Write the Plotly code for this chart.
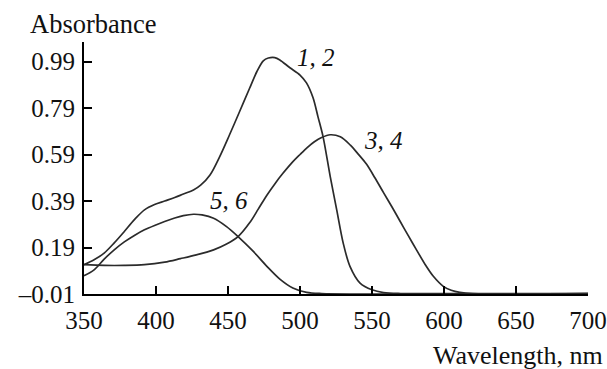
import plotly.graph_objects as go

# Curve 1, 2
wl_12 = [350, 357, 364, 371, 378, 385, 392, 399, 406, 413, 419, 426, 431, 437.5, 444, 451, 458, 465,
         470, 474.5, 478, 482.5, 486, 493, 500, 504.5, 509, 512.5, 516, 521, 525.5, 530, 534.7,
         541.7, 550, 558, 570, 620, 700]
abs_12 = [0.116, 0.137, 0.166, 0.21, 0.259, 0.31, 0.352, 0.375, 0.39, 0.405, 0.42, 0.437, 0.458, 0.502,
          0.578, 0.674, 0.774, 0.875, 0.946, 0.993, 1.005, 1.007, 0.997, 0.963, 0.932, 0.898, 0.835,
          0.752, 0.667, 0.495, 0.352, 0.209, 0.109, 0.037, 0.008, -0.004, -0.008, -0.008, -0.008]

# Curve 3, 4
wl_34 = [350, 364, 378, 392, 406, 417, 428, 440, 449, 457, 465, 471, 477, 483, 488, 494, 500, 505, 510,
         515, 521, 528, 535, 540, 546, 552, 558, 564, 569.4, 575, 581, 587, 592.6, 599.5, 605, 611,
         620, 700]
abs_34 = [0.116, 0.113, 0.113, 0.116, 0.127, 0.142, 0.158, 0.18, 0.205, 0.237, 0.296, 0.355, 0.415, 0.468,
          0.508, 0.552, 0.59, 0.62, 0.645, 0.663, 0.675, 0.666, 0.63, 0.595, 0.55, 0.49, 0.426, 0.363,
          0.304, 0.243, 0.179, 0.116, 0.066, 0.023, 0.006, -0.003, -0.008, -0.008]

# Curve 5, 6
wl_56 = [350, 357, 364, 371, 378, 385, 392, 399, 406, 413, 419, 426, 432, 440, 449, 457, 467.6, 477,
         486, 495, 504.6, 515, 700]
abs_56 = [0.069, 0.094, 0.14, 0.18, 0.214, 0.242, 0.266, 0.285, 0.302, 0.317, 0.327, 0.333, 0.33,
          0.316, 0.28, 0.237, 0.173, 0.109, 0.054, 0.016, -0.003, -0.008, -0.008]

x_ticks = [350, 400, 450, 500, 550, 600, 650, 700]
y_ticks = [-0.01, 0.19, 0.39, 0.59, 0.79, 0.99]
y_ticktext = ["\u20130.01", "0.19", "0.39", "0.59", "0.79", "0.99"]

curve_labels = ["1, 2", "3, 4", "5, 6"]

FONT = "Liberation Serif"
LINE = dict(color="#2b2b2b", width=1.7, shape="spline", smoothing=0.9)

fig = go.Figure()
for wl, ab in [(wl_12, abs_12), (wl_34, abs_34), (wl_56, abs_56)]:
    fig.add_trace(go.Scatter(x=wl, y=ab, mode="lines", line=LINE, showlegend=False,
                             hoverinfo="skip"))

label_pos = [(496.5, 1.009), (543, 0.649), (436, 0.392)]
for txt, (lx, ly) in zip(curve_labels, label_pos):
    fig.add_annotation(x=lx, y=ly, xref="x", yref="y", text="<i>" + txt + "</i>",
                       showarrow=False, xanchor="left", yanchor="middle",
                       font=dict(family=FONT, size=25, color="#111"))

PW, PH = 504, 252.3
fig.add_annotation(x=(28 - 84) / PW, y=1 + (42 - 24) / PH, xref="paper", yref="paper",
                   text="Absorbance", showarrow=False, xanchor="left", yanchor="middle",
                   font=dict(family=FONT, size=26.5, color="#111"))
fig.add_annotation(x=(605 - 84) / PW, y=-(356 - 294.3) / PH, xref="paper", yref="paper",
                   text="Wavelength, nm", showarrow=False, xanchor="right", yanchor="middle",
                   font=dict(family=FONT, size=26, color="#111"))

fig.update_layout(
    width=607, height=369,
    margin=dict(l=84, r=19, t=42, b=75, autoexpand=False),
    paper_bgcolor="white", plot_bgcolor="white",
    font=dict(family=FONT, size=25, color="#111"),
)

fig.update_xaxes(range=[350, 700], tickvals=x_ticks, ticks="inside", ticklen=8, tickwidth=2,
                 tickcolor="black", showline=True, linecolor="black", linewidth=2,
                 showgrid=False, zeroline=False, automargin=False, ticklabelstandoff=3,
                 tickfont=dict(family=FONT, size=25, color="#111"))
fig.update_yaxes(range=[-0.01, 1.074], tickvals=y_ticks, ticktext=y_ticktext, ticks="inside",
                 ticklen=8, tickwidth=2, tickcolor="black", showline=True, linecolor="black",
                 linewidth=2, showgrid=False, zeroline=False, automargin=False, ticklabelstandoff=2,
                 tickfont=dict(family=FONT, size=25, color="#111"))

fig.write_html("out.html", config={"displayModeBar": False, "staticPlot": True},
               post_script="document.body.style.margin='0';document.body.style.padding='0';"
                           "document.body.style.overflow='hidden';")
